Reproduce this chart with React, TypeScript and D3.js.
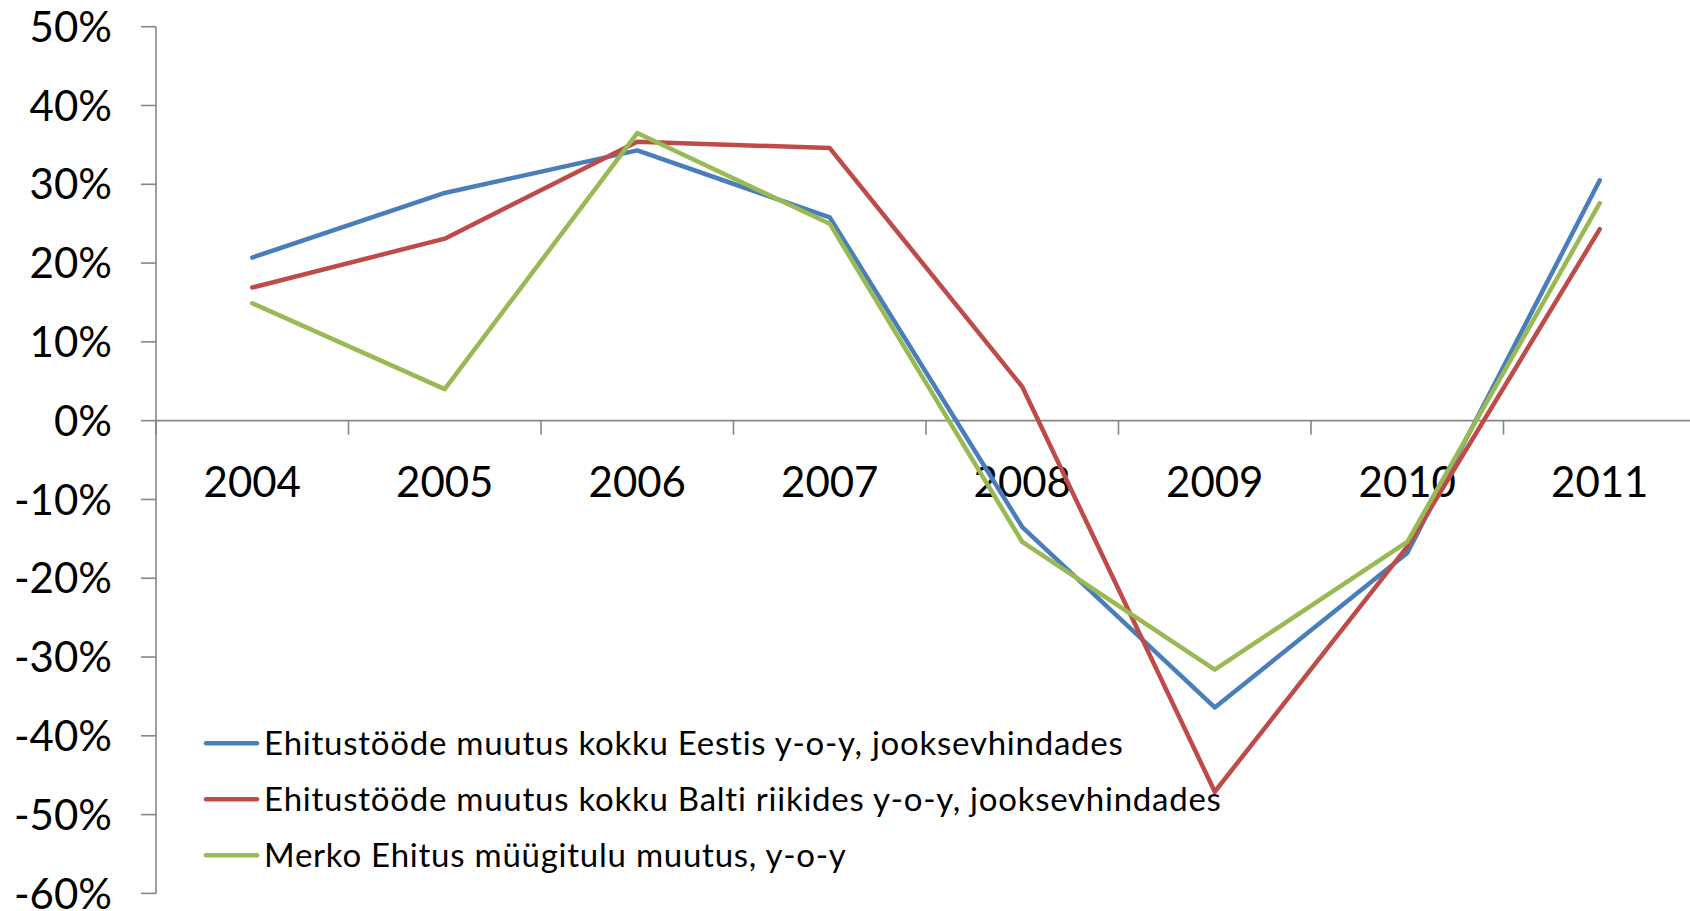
import React from 'react';
import * as d3 from 'd3';

const W = 1690;
const H = 911;

const years = ['2004', '2005', '2006', '2007', '2008', '2009', '2010', '2011'];
// y-o-y change, fractions
const eestis = [0.207, 0.289, 0.343, 0.258, -0.135, -0.364, -0.168, 0.305];
const balti = [0.169, 0.231, 0.354, 0.346, 0.043, -0.471, -0.160, 0.243];
const merko = [0.149, 0.040, 0.365, 0.250, -0.154, -0.316, -0.154, 0.276];
const yTicks = [0.5, 0.4, 0.3, 0.2, 0.1, 0, -0.1, -0.2, -0.3, -0.4, -0.5, -0.6];

const seriesNames = [
  'Ehitustööde muutus kokku Eestis y-o-y, jooksevhindades',
  'Ehitustööde muutus kokku Balti riikides y-o-y, jooksevhindades',
  'Merko Ehitus müügitulu muutus, y-o-y',
];
const seriesColors = ['#4A7EBB', '#BE4B48', '#98B954'];

const font = 'Lato, "Open Sans", sans-serif';
const axisColor = '#868686';

const App = () => {
  const left = 156;
  const bandW = 192.5;
  const x = d3.scaleBand<string>()
    .domain(years)
    .range([left, left + bandW * years.length]);
  const y = d3.scaleLinear().domain([-0.6, 0.5]).range([893.4, 26.7]);

  const pct = d3.format('.0%');
  const line = d3.line<number>()
    .x((_, i) => (x(years[i]) as number) + x.bandwidth() / 2)
    .y(d => y(d));

  const series = [eestis, balti, merko];
  const y0 = y(0);

  return (
    <svg width={W} height={H} style={{ position: 'absolute', left: 0, top: 0, background: '#fff' }}
      fontFamily={font}>
      <rect width={W} height={H} fill="#fff" />
      {/* y axis */}
      <line x1={left} x2={left} y1={y(0.5)} y2={y(-0.6)} stroke={axisColor} strokeWidth={1.6} />
      {yTicks.map(t => (
        <g key={t}>
          <line x1={left - 15} x2={left} y1={y(t)} y2={y(t)} stroke={axisColor} strokeWidth={1.6} />
          <text x={112} y={y(t)} dy="0.36em" textAnchor="end" fontSize={42} fill="#000">
            {pct(t).replace('−', '-')}
          </text>
        </g>
      ))}
      {/* x axis */}
      <line x1={left} x2={W} y1={y0} y2={y0} stroke={axisColor} strokeWidth={1.6} />
      {years.map(yr => (
        <g key={yr}>
          <line x1={x(yr)} x2={x(yr)} y1={y0} y2={y0 + 14} stroke={axisColor} strokeWidth={1.6} />
          <text x={(x(yr) as number) + x.bandwidth() / 2} y={496.5} textAnchor="middle" fontSize={42} fill="#000">
            {yr}
          </text>
        </g>
      ))}
      {/* series */}
      {series.map((s, i) => (
        <path key={i} d={line(s) || ''} fill="none" stroke={seriesColors[i]} strokeWidth={4.5}
          strokeLinejoin="round" strokeLinecap="round" />
      ))}
      {/* legend */}
      {seriesNames.map((name, i) => {
        const ly = 743.3 + i * 56;
        return (
          <g key={name}>
            <line x1={206} x2={257} y1={ly} y2={ly} stroke={seriesColors[i]} strokeWidth={4.5} strokeLinecap="round" />
            <text x={264} y={ly} dy="0.36em" fontSize={33} letterSpacing={0.75} fill="#000">{name}</text>
          </g>
        );
      })}
    </svg>
  );
};

export default App;
